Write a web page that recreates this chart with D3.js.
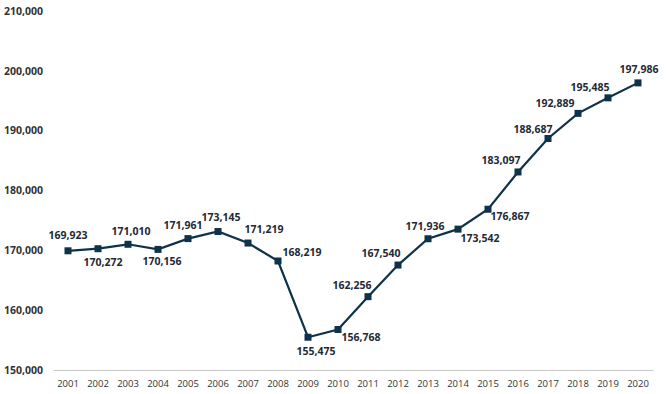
<!DOCTYPE html>
<html>
<head>
<meta charset="utf-8">
<script src="https://cdn.jsdelivr.net/npm/d3@7"></script>
<style>
    body { margin: 0; background: #fff; }
    svg { display: block; }
</style>
</head>
<body>
<div id="chart"></div>
<script>
var years = ["2001", "2002", "2003", "2004", "2005", "2006", "2007", "2008", "2009", "2010",
    "2011", "2012", "2013", "2014", "2015", "2016", "2017", "2018", "2019", "2020"];
var values = [169923, 170272, 171010, 170156, 171961, 173145, 171219, 168219, 155475, 156768,
    162256, 167540, 171936, 173542, 176867, 183097, 188687, 192889, 195485, 197986];
var yTicks = [150000, 160000, 170000, 180000, 190000, 200000, 210000];

// where each value label sits relative to its point [dx, dy]
var labelOffsets = [[0, -15], [5, 14], [3, -13], [4, 12], [-5, -13], [3, -14], [16, -14], [24, -9],
    [8, 14], [23, 8], [-16, -11], [-17, -12], [-3, -12], [22, 9], [22, 7],
    [-17, -12], [-15, -9], [-23, -10], [-18, -11], [1, -14]];

var width = 671, height = 394;
var lineColor = "#0e3249";

var svg = d3.select("#chart")
    .append("svg")
    .attr("width", width)
    .attr("height", height);

var x = d3.scaleBand()
    .domain(years)
    .range([53, 653]);

var y = d3.scaleLinear()
    .domain([150000, 210000])
    .range([370, 11]);

// y tick labels (no axis line, no gridlines)
svg.append("g")
    .selectAll("text")
    .data(yTicks)
    .enter().append("text")
    .attr("x", 43)
    .attr("y", function (d) { return y(d); })
    .attr("dy", "0.35em")
    .attr("text-anchor", "end")
    .style("font-family", "Open Sans")
    .style("font-weight", "bold")
    .style("font-size", "10.5px")
    .style("fill", "#333")
    .text(d3.format(","));

// x axis
var xAxis = svg.append("g")
    .attr("transform", "translate(0," + y(150000) + ")")
    .call(d3.axisBottom(x).tickSize(0).tickPadding(10));
xAxis.select(".domain").attr("stroke", "#c8c8c8").attr("stroke-width", 1.2);
xAxis.selectAll("text")
    .style("font-family", "Open Sans")
    .style("font-size", "9.5px")
    .style("fill", "#333");

var line = d3.line()
    .x(function (d, i) { return x(years[i]) + x.bandwidth() / 2; })
    .y(function (d) { return y(d); });

svg.append("path")
    .datum(values)
    .attr("d", line)
    .attr("fill", "none")
    .attr("stroke", lineColor)
    .attr("stroke-width", 2.2);

var ms = 7;
svg.append("g")
    .selectAll("rect")
    .data(values)
    .enter().append("rect")
    .attr("x", function (d, i) { return x(years[i]) + x.bandwidth() / 2 - ms / 2; })
    .attr("y", function (d) { return y(d) - ms / 2; })
    .attr("width", ms)
    .attr("height", ms)
    .attr("fill", lineColor);

svg.append("g")
    .selectAll("text")
    .data(values)
    .enter().append("text")
    .attr("x", function (d, i) { return x(years[i]) + x.bandwidth() / 2 + labelOffsets[i][0]; })
    .attr("y", function (d, i) { return y(d) + labelOffsets[i][1]; })
    .attr("dy", "0.35em")
    .attr("text-anchor", "middle")
    .style("font-family", "Open Sans")
    .style("font-weight", "bold")
    .style("font-size", "10.5px")
    .style("fill", "#1f2a36")
    .text(d3.format(","));
</script>
</body>
</html>
